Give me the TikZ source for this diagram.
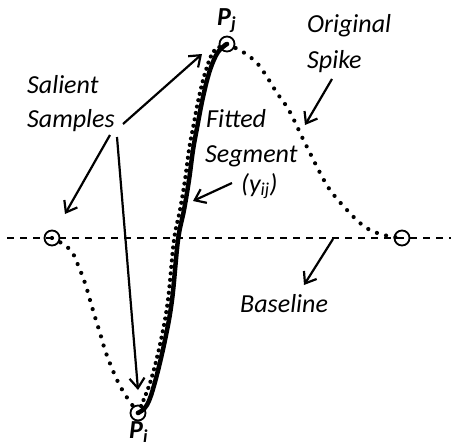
\documentclass[tikz,border=0pt]{standalone}
\usepackage{fontspec}
\setmainfont{Carlito}
\usetikzlibrary{arrows.meta}
\begin{document}
\begin{tikzpicture}[x=1pt,y=-1pt,
  lbl/.style={font=\fontsize{26}{30}\selectfont\itshape, inner sep=0pt, anchor=base west},
  ptlbl/.style={font=\fontsize{26}{30}\selectfont\bfseries\itshape, inner sep=0pt, anchor=base west},
  samp/.style={circle, draw, line width=1.8pt, minimum size=15pt, inner sep=0pt},
  callout/.style={line width=2.2pt, -{Straight Barb[length=10pt,width=15pt,line width=2.2pt]}},
  dotline/.style={line width=4.2pt, line cap=round, dash pattern=on 0pt off 9.5pt},
  fitline/.style={line width=4.5pt, line cap=round},
  baseln/.style={line width=1.8pt, dash pattern=on 7pt off 6pt}]
\useasboundingbox (0,0) rectangle (451,447);
% sample points
\node[samp] (bl) at (52,238) {};
\node[samp] (br) at (402,238) {};
\node[samp] (pi) at (138,413) {};
\node[samp] (pj) at (227,44) {};
% baseline
\coordinate (bs) at (7,238);
\coordinate (be) at (451,238);
\draw[baseln] (bs) -- (be);
% original spike (dotted)
\draw[dotline] plot[smooth, tension=0.6] coordinates {(bl.center) (63,244) (72,252) (78,265) (85,283) (90,300) (95,317) (100,333) (105,350) (111,366) (118,382) (126,396) (138,413)};
\draw[dotline, dash pattern=on 0pt off 6.5pt] plot[smooth, tension=0.6] coordinates {(141,406) (151,380) (161,340) (168,300) (174,240) (180,210) (185,180) (189,150) (193,128) (199,97) (206,70) (214,51) (227,44)};
\draw[dotline] plot[smooth, tension=0.6] coordinates {(pj.center) (243,52) (257,63) (267,77) (277,93) (287,107) (294,120) (302,137) (310,153) (317,167) (325,182) (333,194) (347,210) (360,223) (372,231) (388,236) (br.center)};
% fitted segment (solid)
\draw[fitline] plot[smooth, tension=0.6] coordinates {(pi.center) (147,405) (155,382) (165,340) (172,300) (178,240) (184,210) (189,180) (193,150) (197,128) (203,97) (210,70) (218,52) (227,44)};
% labels
\node[ptlbl] (pjl) at (217,25) {P\textsubscript{j}};
\node[ptlbl] (pil) at (129,438) {P\textsubscript{i}};
\node[lbl] (sal) at (27,93) {Salient};
\node[lbl] (sam) at (27,127) {Samples};
\node[lbl] (ori) at (307,33) {Original};
\node[lbl] (spi) at (307,68) {Spike};
\node[lbl] (fit) at (206,128) {Fitted};
\node[lbl] (seg) at (205,162) {Segment};
\node[lbl] (yij) at (241,192) {(y\textsubscript{ij})};
\node[lbl] (bas) at (240,312) {Baseline};
% callout anchors
\coordinate (s1) at (123,124);
\coordinate (s2) at (110,135);
\coordinate (s3) at (117,137);
\coordinate (t1) at (202,54);
\coordinate (t2) at (65,214);
\coordinate (t3) at (138,390);
\coordinate (o1) at (332,79);
\coordinate (o2) at (305,125);
\coordinate (y1) at (232,183);
\coordinate (y2) at (193,201);
\coordinate (b1) at (333,239);
\coordinate (b2) at (304,285);
\draw[callout] (s1) -- (t1);
\draw[callout] (s2) -- (t2);
\draw[callout] (s3) -- (t3);
\draw[callout] (o1) -- (o2);
\draw[callout] (y1) -- (y2);
\draw[callout] (b1) -- (b2);
\end{tikzpicture}
\end{document}
